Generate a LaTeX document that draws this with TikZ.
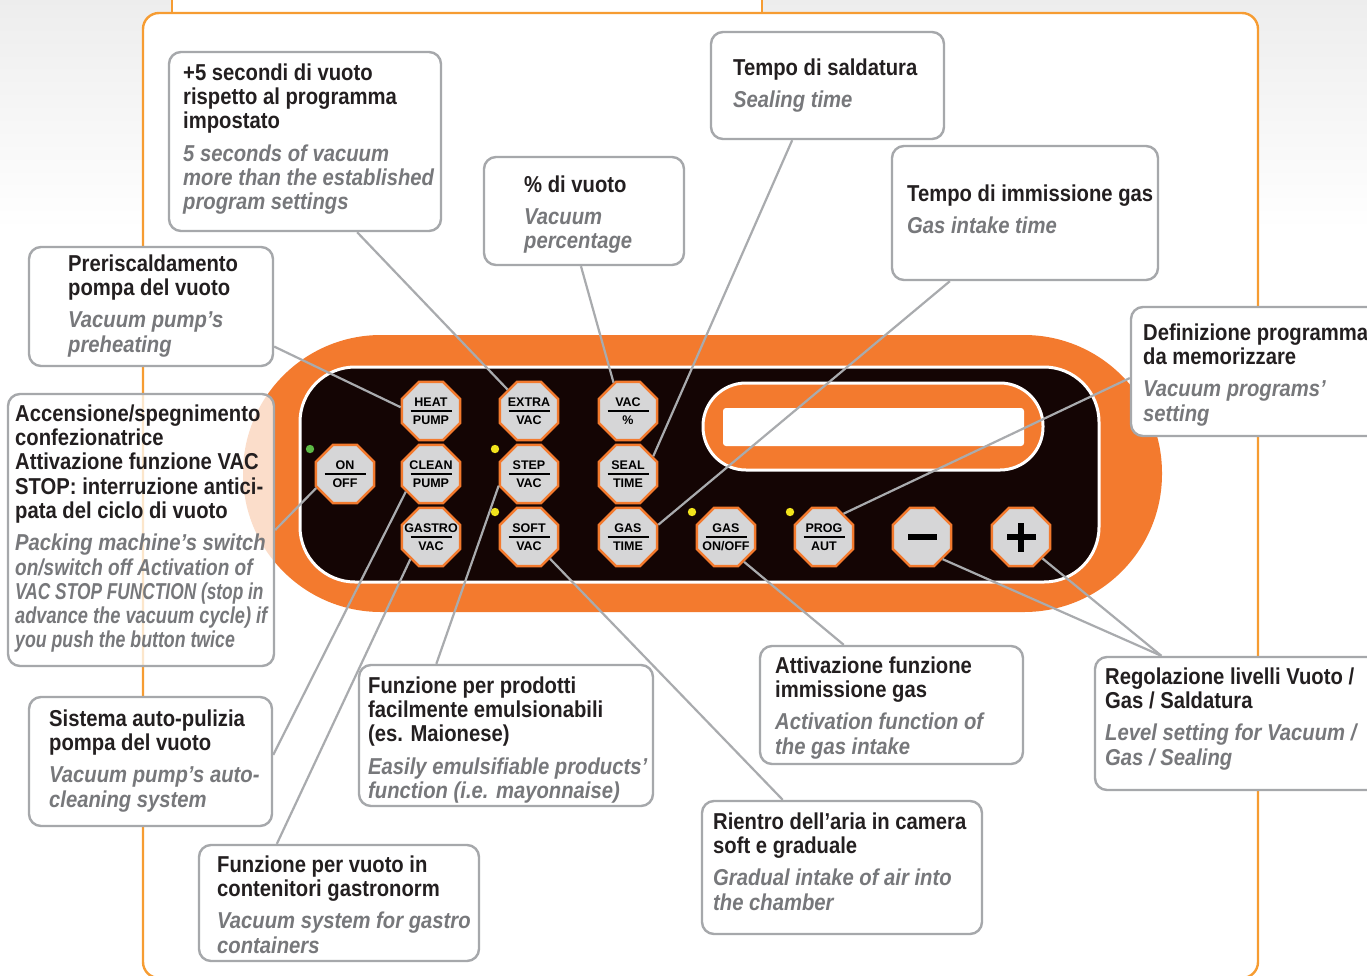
\documentclass[tikz,border=0pt]{standalone}
\usepackage{fontspec}
\usepackage{graphicx}
\setmainfont{Liberation Sans}
\newfontfamily\cf[FakeStretch=0.88]{Liberation Sans}
\usetikzlibrary{shapes.geometric,fit,calc}
\definecolor{porange}{HTML}{F37A2E}
\definecolor{forange}{HTML}{F69C32}
\definecolor{pblack}{HTML}{140504}
\definecolor{bfill}{HTML}{D6D6D7}
\definecolor{bgray}{HTML}{A6A8AB}
\definecolor{lgray}{HTML}{A9ABAE}
\definecolor{tblack}{HTML}{231F20}
\definecolor{engray}{HTML}{77787B}
\definecolor{ledg}{HTML}{5DBB46}
\definecolor{ledy}{HTML}{F2E41C}
\newcommand\en[1]{{\itshape\color{engray}#1}}
\newcommand\enx[2]{{\itshape\color{engray}\scalebox{#1}[1]{#2}}}
\newcommand\fl{\rule{0pt}{18pt}}
\newcommand\pbutton[5]{%
  \node[btn] (#1) at (#2,#3) {};
  \node[btnlab] (#1-t) at ([yshift=9pt]#1.center) {#4};
  \node[btnlab] (#1-b) at ([yshift=-9pt]#1.center) {#5};
  \draw[line width=1.3pt] ([xshift=-20.5pt]#1.center) -- ([xshift=20.5pt]#1.center);
}
\begin{document}
\begin{tikzpicture}[x=1pt,y=-1pt,
  infobox/.style={draw=bgray, line width=2.4pt, fill=white, rounded corners=12pt, inner sep=0pt},
  txt/.style={inner sep=0pt, align=left, anchor=north west, text=tblack, font=\cf\bfseries\fontsize{23}{24.3}\selectfont},
  btn/.style={regular polygon, regular polygon sides=8, minimum size=63pt, inner sep=0pt, fill=bfill, draw=porange, line width=2.4pt},
  btnlab/.style={inner sep=0pt, text height=9pt, text depth=0pt, font=\bfseries\fontsize{12.5}{13}\selectfont, text=black},
  conn/.style={draw=lgray, line width=2.2pt},
]
\useasboundingbox (0,0) rectangle (1367,975);
% background
\shade[top color=black!7, bottom color=white] (0,0) rectangle (1367,230);
\fill[white] (172,0) rectangle (762,13);
\draw[forange, line width=1.6pt] (172,0) -- (172,13);
\draw[forange, line width=1.6pt] (762,0) -- (762,13);
\draw[forange, line width=2.4pt, fill=white, rounded corners=16pt] (143,13) rectangle (1258,978);

% panel
\fill[porange, rounded corners=138pt] (243,335) rectangle (1162,612);
\filldraw[fill=pblack, draw=white, line width=3pt, rounded corners=55pt] (300,367) rectangle (1099,582);
\filldraw[fill=porange, draw=white, line width=3pt, rounded corners=43pt] (703,383) rectangle (1043,470);
\fill[white, rounded corners=3pt] (723,408) rectangle (1024,446);

% LEDs
\fill[ledg] (310,449) circle (4.2pt);
\fill[ledy] (495,449) circle (4.2pt);
\fill[ledy] (495,512) circle (4.2pt);
\fill[ledy] (692,512) circle (4.2pt);
\fill[ledy] (790,512) circle (4.2pt);

% buttons
\pbutton{heat}{431}{411}{HEAT}{PUMP}
\pbutton{extra}{529}{411}{EXTRA}{VAC}
\pbutton{vacp}{628}{411}{VAC}{\%}
\pbutton{onoff}{345}{474}{ON}{OFF}
\pbutton{clean}{431}{474}{CLEAN}{PUMP}
\pbutton{step}{529}{474}{STEP}{VAC}
\pbutton{seal}{628}{474}{SEAL}{TIME}
\pbutton{gastro}{431}{537}{GASTRO}{VAC}
\pbutton{soft}{529}{537}{SOFT}{VAC}
\pbutton{gastime}{628}{537}{GAS}{TIME}
\pbutton{gason}{726}{537}{GAS}{ON/OFF}
\pbutton{prog}{824}{537}{PROG}{AUT}
\node[btn] (minus) at (922,537) {};
\fill ([xshift=-14.5pt,yshift=-2.8pt]minus.center) rectangle ([xshift=14.5pt,yshift=2.8pt]minus.center);
\node[btn] (plus) at (1021,537) {};
\fill ([xshift=-14.5pt,yshift=-2.8pt]plus.center) rectangle ([xshift=14.5pt,yshift=2.8pt]plus.center);
\fill ([xshift=-2.8pt,yshift=-14.5pt]plus.center) rectangle ([xshift=2.8pt,yshift=14.5pt]plus.center);

% boxes
\node[infobox, fit={(169,52) (441,231)}] (b1) {};
\node[infobox, fit={(711,32) (944,139)}] (b2) {};
\node[infobox, fit={(484,157) (684,265)}] (b3) {};
\node[infobox, fit={(892,146) (1158,280)}] (b4) {};
\node[infobox, fit={(29,247) (273,366)}] (b5) {};
\node[infobox, fill opacity=0.75, fit={(8,394) (274,666)}] (b6) {};
\node[infobox, fit={(1131,307) (1380,436)}] (b7) {};
\node[infobox, fit={(29,697) (272,826)}] (b8) {};
\node[infobox, fit={(359,665) (653,806)}] (b9) {};
\node[infobox, fit={(199,845) (479,961)}] (b10) {};
\node[infobox, fit={(702,801) (982,934)}] (b11) {};
\node[infobox, fit={(760,646) (1023,764)}] (b12) {};
\node[infobox, fit={(1095,657) (1380,790)}] (b13) {};

% connectors
\draw[conn] ($(b1.south west)!0.69!(b1.south east)$) -- (extra.135);
\draw[conn] ($(b5.north east)!0.83!(b5.south east)$) -- (heat.173);
\draw[conn] ($(b3.south west)!0.485!(b3.south east)$) -- (vacp.117);
\draw[conn] ($(b2.south west)!0.35!(b2.south east)$) -- (seal.35);
\draw[conn] ($(b4.south west)!0.22!(b4.south east)$) -- (gastime.22);
\draw[conn] ($(b7.north west)!0.55!(b7.south west)$) -- (prog.50);
\draw[conn] ($(b6.north east)!0.5!(b6.south east)$) -- (onoff.206);
\draw[conn] ($(b8.north east)!0.45!(b8.south east)$) -- (clean.215);
\draw[conn] ($(b10.north west)!0.28!(b10.north east)$) -- (gastro.227);
\draw[conn] ($(b9.north west)!0.265!(b9.north east)$) -- (step.201);
\draw[conn] ($(b11.north west)!0.29!(b11.north east)$) -- (soft.314);
\draw[conn] ($(b12.north west)!0.32!(b12.north east)$) -- (gason.306);
\draw[conn] ($(b13.north west)!0.235!(b13.north east)$) -- (minus.313);
\draw[conn] ($(b13.north west)!0.235!(b13.north east)$) -- (plus.315);

% texts
\node[txt] (t1) at (183,80-18) {\fl+5 secondi di vuoto\\rispetto al programma\\impostato\\[8pt]\en{5 seconds of vacuum}\\\en{more than the established}\\\en{program settings}};
\node[txt] (t2) at (733,75-18) {\fl Tempo di saldatura\\[8pt]\en{Sealing time}};
\node[txt] (t3) at (524,192-18) {\fl\% di vuoto\\[8pt]\en{Vacuum}\\\en{percentage}};
\node[txt] (t4) at (907,201-18) {\fl Tempo di immissione gas\\[8pt]\en{Gas intake time}};
\node[txt] (t5) at (68,271-18) {\fl Preriscaldamento\\pompa del vuoto\\[8pt]\en{Vacuum pump’s}\\\en{preheating}};
\node[txt] (t6) at (15,421-18) {\fl Accensione/spegnimento\\confezionatrice\\Attivazione funzione VAC\\STOP: interruzione antici-\\pata del ciclo di vuoto\\[8pt]\en{Packing machine’s switch}\\\enx{0.94}{on/switch off Activation of}\\\enx{0.855}{VAC STOP FUNCTION (stop in}\\\enx{0.9}{advance the vacuum cycle) if}\\\enx{0.876}{you push the button twice}};
\node[txt] (t7) at (1143,340-18) {\fl Definizione programma\\da memorizzare\\[8pt]\en{Vacuum programs’}\\\en{setting}};
\node[txt] (t8) at (49,726-18) {\fl Sistema auto-pulizia\\pompa del vuoto\\[8pt]\en{Vacuum pump’s auto-}\\\en{cleaning system}};
\node[txt] (t9) at (368,693-18) {\fl Funzione per prodotti\\facilmente emulsionabili\\(es. Maionese)\\[8pt]\en{Easily emulsifiable products’}\\\en{function (i.e. mayonnaise)}};
\node[txt] (t10) at (217,872-18) {\fl Funzione per vuoto in\\contenitori gastronorm\\[8pt]\en{Vacuum system for gastro}\\\en{containers}};
\node[txt] (t11) at (713,829-18) {\fl Rientro dell’aria in camera\\soft e graduale\\[8pt]\en{Gradual intake of air into}\\\en{the chamber}};
\node[txt] (t12) at (775,673-18) {\fl Attivazione funzione\\immissione gas\\[8pt]\en{Activation function of}\\\en{the gas intake}};
\node[txt] (t13) at (1105,684-18) {\fl Regolazione livelli Vuoto /\\Gas / Saldatura\\[8pt]\en{Level setting for Vacuum /}\\\en{Gas / Sealing}};
\end{tikzpicture}
\end{document}
